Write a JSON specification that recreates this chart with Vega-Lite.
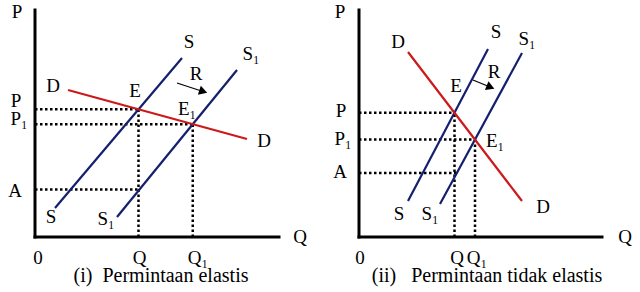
{
  "$schema": "https://vega.github.io/schema/vega-lite/v6.json",
  "padding": 0,
  "spacing": 0,
  "config": {"view": {"stroke": null}, "text": {"font": "'Liberation Serif', 'Times New Roman', Times, serif", "fontSize": 19}},
  "datasets": {
    "segs": [
      {"panel": 1, "kind": "axis", "x": 0, "y": 0, "x2": 0, "y2": 9.08},
      {"panel": 1, "kind": "axis", "x": 0, "y": 0, "x2": 9.76, "y2": 0},
      {"panel": 1, "kind": "S", "x": 0.8, "y": 1.16, "x2": 5.88, "y2": 7.16},
      {"panel": 1, "kind": "S1", "x": 3.28, "y": 0.8, "x2": 8.08, "y2": 6.68},
      {"panel": 1, "kind": "D", "x": 1.32, "y": 5.88, "x2": 8.48, "y2": 3.92},
      {"panel": 1, "kind": "guide", "x": 0, "y": 5.11, "x2": 4.14, "y2": 5.11},
      {"panel": 1, "kind": "guide", "x": 0, "y": 4.51, "x2": 6.31, "y2": 4.51},
      {"panel": 1, "kind": "guide", "x": 0, "y": 1.9, "x2": 4.14, "y2": 1.9},
      {"panel": 1, "kind": "guide", "x": 4.14, "y": 0, "x2": 4.14, "y2": 5.11},
      {"panel": 1, "kind": "guide", "x": 6.31, "y": 0, "x2": 6.31, "y2": 4.51},
      {"panel": 1, "kind": "arrow", "x": 5.68, "y": 6.16, "x2": 6.75, "y2": 5.81},
      {"panel": 2, "kind": "axis", "x": 0, "y": 0, "x2": 0, "y2": 9.08},
      {"panel": 2, "kind": "axis", "x": 0, "y": 0, "x2": 9.72, "y2": 0},
      {"panel": 2, "kind": "S", "x": 1.96, "y": 1.44, "x2": 5.16, "y2": 7.52},
      {"panel": 2, "kind": "S1", "x": 3.24, "y": 1.32, "x2": 6.52, "y2": 7.36},
      {"panel": 2, "kind": "D", "x": 1.96, "y": 7.4, "x2": 6.52, "y2": 1.44},
      {"panel": 2, "kind": "guide", "x": 0, "y": 4.97, "x2": 3.82, "y2": 4.97},
      {"panel": 2, "kind": "guide", "x": 0, "y": 3.9, "x2": 4.64, "y2": 3.9},
      {"panel": 2, "kind": "guide", "x": 0, "y": 2.56, "x2": 3.9, "y2": 2.56},
      {"panel": 2, "kind": "guide", "x": 3.82, "y": 0, "x2": 3.82, "y2": 4.97},
      {"panel": 2, "kind": "guide", "x": 4.64, "y": 0, "x2": 4.64, "y2": 3.9},
      {"panel": 2, "kind": "arrow", "x": 4.56, "y": 6.28, "x2": 5.24, "y2": 6.0}
    ],
    "heads": [
      {"panel": 1, "x": 6.73, "y": 5.82},
      {"panel": 2, "x": 5.26, "y": 5.99}
    ],
    "labels": [
      {"panel": 1, "text": "P", "x": -0.72, "y": 8.76},
      {"panel": 1, "text": "Q", "x": 10.6, "y": -0.24},
      {"panel": 1, "text": "0", "x": 0.12, "y": -1.08},
      {"panel": 1, "text": "Q", "x": 4.18, "y": -1.08},
      {"panel": 1, "text": "Q₁", "x": 6.52, "y": -1.08},
      {"panel": 1, "text": "P", "x": -0.76, "y": 5.2},
      {"panel": 1, "text": "P₁", "x": -0.64, "y": 4.48},
      {"panel": 1, "text": "A", "x": -0.8, "y": 1.6},
      {"panel": 1, "text": "S", "x": 6.16, "y": 7.56},
      {"panel": 1, "text": "S₁", "x": 8.64, "y": 7.08},
      {"panel": 1, "text": "D", "x": 0.72, "y": 5.8},
      {"panel": 1, "text": "D", "x": 9.16, "y": 3.6},
      {"panel": 1, "text": "E", "x": 4.0, "y": 5.6},
      {"panel": 1, "text": "E₁", "x": 6.08, "y": 4.88},
      {"panel": 1, "text": "R", "x": 6.44, "y": 6.28},
      {"panel": 1, "text": "S", "x": 0.64, "y": 0.56},
      {"panel": 1, "text": "S₁", "x": 2.84, "y": 0.48},
      {"panel": 2, "text": "P", "x": -0.76, "y": 8.76},
      {"panel": 2, "text": "Q", "x": 10.64, "y": -0.24},
      {"panel": 2, "text": "0", "x": 0.04, "y": -1.08},
      {"panel": 2, "text": "Q", "x": 3.92, "y": -1.08},
      {"panel": 2, "text": "Q₁", "x": 4.72, "y": -1.08},
      {"panel": 2, "text": "P", "x": -0.72, "y": 4.8},
      {"panel": 2, "text": "P₁", "x": -0.64, "y": 3.68},
      {"panel": 2, "text": "A", "x": -0.76, "y": 2.36},
      {"panel": 2, "text": "S", "x": 5.48, "y": 7.96},
      {"panel": 2, "text": "S₁", "x": 6.72, "y": 7.68},
      {"panel": 2, "text": "D", "x": 1.56, "y": 7.56},
      {"panel": 2, "text": "D", "x": 7.36, "y": 0.96},
      {"panel": 2, "text": "E", "x": 3.88, "y": 5.8},
      {"panel": 2, "text": "E₁", "x": 5.44, "y": 3.6},
      {"panel": 2, "text": "R", "x": 5.4, "y": 6.36},
      {"panel": 2, "text": "S", "x": 1.6, "y": 0.68},
      {"panel": 2, "text": "S₁", "x": 2.84, "y": 0.68}
    ],
    "captions": [
      {"panel": 1, "text": "(i)\u00a0\u00a0Permintaan elastis", "x": 5.04, "y": -1.8},
      {"panel": 2, "text": "(ii)\u00a0\u00a0 Permintaan tidak elastis", "x": 5.12, "y": -1.8}
    ]
  },
  "hconcat": [
    {
      "width": 320,
      "height": 292,
      "encoding": {
        "x": {"field": "x", "type": "quantitative", "axis": null, "scale": {"domain": [-1.4, 11.4], "nice": false, "zero": false}},
        "y": {"field": "y", "type": "quantitative", "axis": null, "scale": {"domain": [-2.2, 9.48], "nice": false, "zero": false}}
      },
      "layer": [
        {
          "data": {"name": "segs"},
          "transform": [{"filter": "datum.panel == 1 && datum.kind == 'guide'"}],
          "mark": {"type": "rule", "color": "black", "strokeWidth": 2.5, "strokeDash": [2.5, 2.5]},
          "encoding": {"x2": {"field": "x2"}, "y2": {"field": "y2"}}
        },
        {
          "data": {"name": "segs"},
          "transform": [{"filter": "datum.panel == 1 && (datum.kind == 'S' || datum.kind == 'S1' || datum.kind == 'D')"}],
          "mark": {"type": "rule", "strokeWidth": 2.2},
          "encoding": {
            "x2": {"field": "x2"}, "y2": {"field": "y2"},
            "color": {"field": "kind", "type": "nominal", "legend": null, "scale": {"domain": ["S", "S1", "D"], "range": ["#141f6e", "#141f6e", "#cc1a1a"]}}
          }
        },
        {
          "data": {"name": "segs"},
          "transform": [{"filter": "datum.panel == 1 && datum.kind == 'axis'"}],
          "mark": {"type": "rule", "color": "black", "strokeWidth": 3, "strokeCap": "square"},
          "encoding": {"x2": {"field": "x2"}, "y2": {"field": "y2"}}
        },
        {
          "data": {"name": "segs"},
          "transform": [{"filter": "datum.panel == 1 && datum.kind == 'arrow'"}],
          "mark": {"type": "rule", "color": "black", "strokeWidth": 1.3},
          "encoding": {"x2": {"field": "x2"}, "y2": {"field": "y2"}}
        },
        {
          "data": {"name": "heads"},
          "transform": [{"filter": "datum.panel == 1"}],
          "mark": {"type": "point", "shape": "triangle-right", "filled": true, "color": "black", "opacity": 1, "size": 90, "angle": 18}
        },
        {
          "data": {"name": "labels"},
          "transform": [{"filter": "datum.panel == 1"}],
          "mark": {"type": "text", "align": "center", "baseline": "alphabetic", "color": "black"},
          "encoding": {"text": {"field": "text"}}
        },
        {
          "data": {"name": "captions"},
          "transform": [{"filter": "datum.panel == 1"}],
          "mark": {"type": "text", "align": "center", "baseline": "alphabetic", "color": "black", "fontSize": 20},
          "encoding": {"text": {"field": "text"}}
        }
      ]
    },
    {
      "width": 320,
      "height": 292,
      "encoding": {
        "x": {"field": "x", "type": "quantitative", "axis": null, "scale": {"domain": [-1.56, 11.24], "nice": false, "zero": false}},
        "y": {"field": "y", "type": "quantitative", "axis": null, "scale": {"domain": [-2.2, 9.48], "nice": false, "zero": false}}
      },
      "layer": [
        {
          "data": {"name": "segs"},
          "transform": [{"filter": "datum.panel == 2 && datum.kind == 'guide'"}],
          "mark": {"type": "rule", "color": "black", "strokeWidth": 2.5, "strokeDash": [2.5, 2.5]},
          "encoding": {"x2": {"field": "x2"}, "y2": {"field": "y2"}}
        },
        {
          "data": {"name": "segs"},
          "transform": [{"filter": "datum.panel == 2 && (datum.kind == 'S' || datum.kind == 'S1' || datum.kind == 'D')"}],
          "mark": {"type": "rule", "strokeWidth": 2.2},
          "encoding": {
            "x2": {"field": "x2"}, "y2": {"field": "y2"},
            "color": {"field": "kind", "type": "nominal", "legend": null, "scale": {"domain": ["S", "S1", "D"], "range": ["#141f6e", "#141f6e", "#cc1a1a"]}}
          }
        },
        {
          "data": {"name": "segs"},
          "transform": [{"filter": "datum.panel == 2 && datum.kind == 'axis'"}],
          "mark": {"type": "rule", "color": "black", "strokeWidth": 3, "strokeCap": "square"},
          "encoding": {"x2": {"field": "x2"}, "y2": {"field": "y2"}}
        },
        {
          "data": {"name": "segs"},
          "transform": [{"filter": "datum.panel == 2 && datum.kind == 'arrow'"}],
          "mark": {"type": "rule", "color": "black", "strokeWidth": 1.3},
          "encoding": {"x2": {"field": "x2"}, "y2": {"field": "y2"}}
        },
        {
          "data": {"name": "heads"},
          "transform": [{"filter": "datum.panel == 2"}],
          "mark": {"type": "point", "shape": "triangle-right", "filled": true, "color": "black", "opacity": 1, "size": 90, "angle": 22}
        },
        {
          "data": {"name": "labels"},
          "transform": [{"filter": "datum.panel == 2"}],
          "mark": {"type": "text", "align": "center", "baseline": "alphabetic", "color": "black"},
          "encoding": {"text": {"field": "text"}}
        },
        {
          "data": {"name": "captions"},
          "transform": [{"filter": "datum.panel == 2"}],
          "mark": {"type": "text", "align": "center", "baseline": "alphabetic", "color": "black", "fontSize": 20},
          "encoding": {"text": {"field": "text"}}
        }
      ]
    }
  ]
}
